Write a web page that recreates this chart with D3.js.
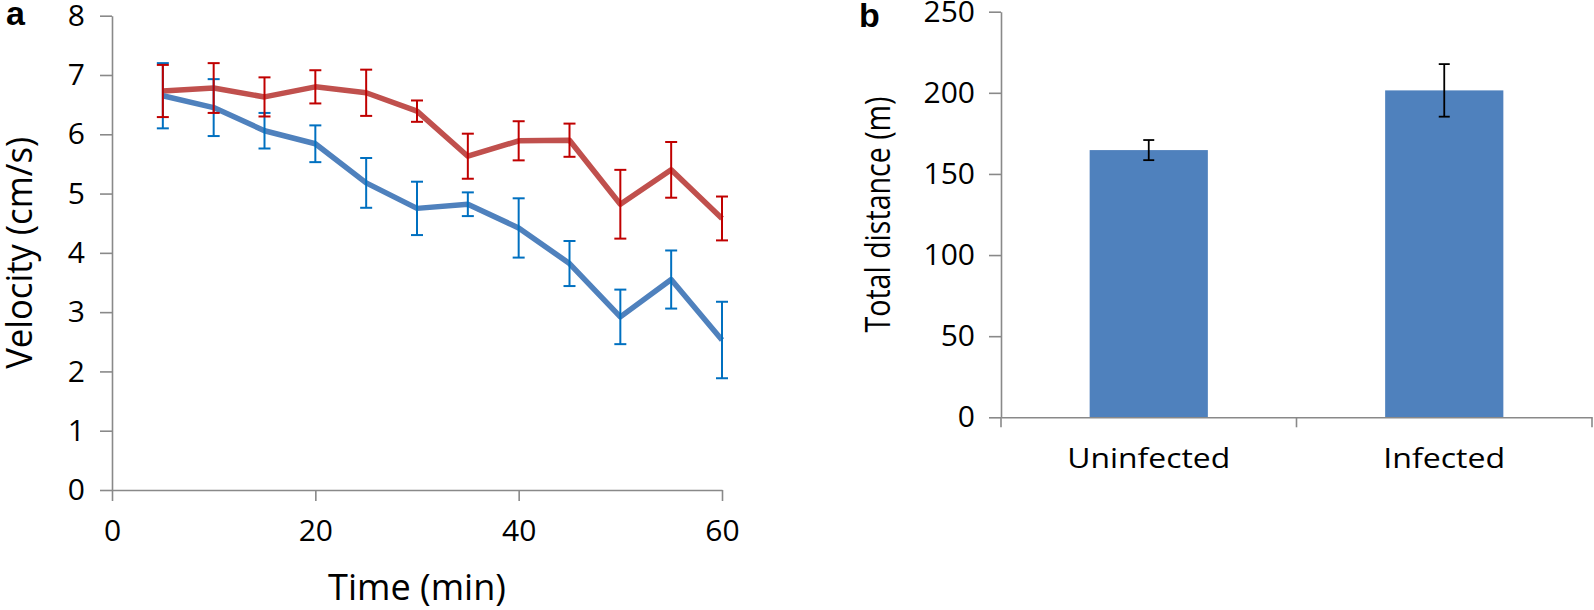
<!DOCTYPE html>
<html>
<head>
<meta charset="utf-8">
<script src="https://cdn.jsdelivr.net/npm/d3@7"></script>
<style>
  html, body { margin: 0; padding: 0; background: #fff; }
  svg { display: block; }
  text { font-family: "Open Sans", "Noto Sans", sans-serif; fill: #000; }
</style>
</head>
<body>
<svg id="chart" width="1594" height="610"></svg>
<script>
// ---------- Panel a data ----------
const times = [5, 10, 15, 20, 25, 30, 35, 40, 45, 50, 55, 60];
const infectedVelocity = [6.73, 6.78, 6.63, 6.80, 6.70, 6.39, 5.63, 5.89, 5.90, 4.82, 5.40, 4.58];
const infectedError    = [0.44, 0.42, 0.33, 0.28, 0.39, 0.18, 0.38, 0.33, 0.28, 0.58, 0.47, 0.37];
const uninfectedVelocity = [6.65, 6.45, 6.06, 5.84, 5.18, 4.75, 4.82, 4.42, 3.82, 2.92, 3.55, 2.53];
const uninfectedError    = [0.55, 0.48, 0.30, 0.31, 0.42, 0.45, 0.20, 0.50, 0.38, 0.46, 0.49, 0.645];
const timeTicks = [0, 20, 40, 60];
const velocityTicks = [0, 1, 2, 3, 4, 5, 6, 7, 8];

// ---------- Panel b data ----------
const groups = ["Uninfected", "Infected"];
const totalDistance = [164.7, 201.5];
const totalDistanceError = [6.2, 16.2];
const distanceTicks = [0, 50, 100, 150, 200, 250];

const svg = d3.select("#chart");
const axisColor = "#898989";

function styleAxis(g) {
  g.selectAll("path.domain").attr("stroke", axisColor).attr("stroke-width", 1.6);
  g.selectAll(".tick line").attr("stroke", axisColor).attr("stroke-width", 1.6);
  g.selectAll(".tick text").attr("fill", "#000");
}

// ================= Panel a =================
const xA = d3.scaleLinear().domain([0, 60]).range([112, 722]);
const yA = d3.scaleLinear().domain([0, 8]).range([490, 15.7]);

const gAy = svg.append("g").attr("transform", `translate(${xA(0)},0)`)
  .call(d3.axisLeft(yA).tickValues(velocityTicks).tickFormat(d3.format("d"))
    .tickSize(12).tickSizeOuter(0).tickPadding(15));
gAy.selectAll(".tick text").style("font-size", "30px").style("font-family", "'Open Sans', sans-serif");
styleAxis(gAy);

const gAx = svg.append("g").attr("transform", `translate(0,${yA(0)})`)
  .call(d3.axisBottom(xA).tickValues(timeTicks).tickFormat(d3.format("d"))
    .tickSize(11).tickSizeOuter(0).tickPadding(19));
gAx.selectAll(".tick text").style("font-size", "30px").style("font-family", "'Open Sans', sans-serif");
styleAxis(gAx);

const line = d3.line().x(d => xA(d.t)).y(d => yA(d.v));

const seriesA = [
  { v: infectedVelocity, e: infectedError, line: "#C0504D", err: "#C00000" },
  { v: uninfectedVelocity, e: uninfectedError, line: "#4F81BD", err: "#0070C0" }
];

seriesA.forEach(s => {
  const pts = times.map((t, i) => ({ t, v: s.v[i], e: s.e[i] }));
  svg.append("path").datum(pts)
    .attr("d", line)
    .attr("fill", "none")
    .attr("stroke", s.line)
    .attr("stroke-width", 5.5)
    .attr("stroke-linejoin", "round")
    .attr("stroke-linecap", "butt");
});

// error bars: uninfected (blue) first, infected (red) on top
seriesA.slice().reverse().forEach(s => {
  const pts = times.map((t, i) => ({ t, v: s.v[i], e: s.e[i] }));
  const g = svg.append("g").attr("stroke", s.err).attr("stroke-width", 2).attr("fill", "none");
  const capW = 6;
  g.selectAll("line.v").data(pts).join("line").attr("class", "v")
    .attr("x1", d => xA(d.t)).attr("x2", d => xA(d.t))
    .attr("y1", d => yA(d.v + d.e)).attr("y2", d => yA(d.v - d.e));
  g.selectAll("line.top").data(pts).join("line").attr("class", "top")
    .attr("x1", d => xA(d.t) - capW).attr("x2", d => xA(d.t) + capW)
    .attr("y1", d => yA(d.v + d.e)).attr("y2", d => yA(d.v + d.e));
  g.selectAll("line.bot").data(pts).join("line").attr("class", "bot")
    .attr("x1", d => xA(d.t) - capW).attr("x2", d => xA(d.t) + capW)
    .attr("y1", d => yA(d.v - d.e)).attr("y2", d => yA(d.v - d.e));
});

// axis titles a
svg.append("text")
  .attr("x", (xA(0) + xA(60)) / 2).attr("y", 600)
  .attr("text-anchor", "middle")
  .attr("textLength", 178).attr("lengthAdjust", "spacingAndGlyphs")
  .style("font-size", "37px")
  .text("Time (min)");

svg.append("text")
  .attr("transform", `translate(32,${(yA(0) + yA(8)) / 2}) rotate(-90)`)
  .attr("text-anchor", "middle")
  .attr("textLength", 232).attr("lengthAdjust", "spacingAndGlyphs")
  .style("font-size", "37px")
  .text("Velocity (cm/s)");

svg.append("text")
  .attr("x", 6).attr("y", 25)
  .style("font-family", "'Liberation Sans', Arial, sans-serif")
  .style("font-weight", "bold")
  .style("font-size", "34px")
  .text("a");

// ================= Panel b =================
const xB = d3.scaleBand().domain(groups).range([1001, 1592]).padding(0);
const yB = d3.scaleLinear().domain([0, 250]).range([417.3, 11.7]);
const barFrac = 0.4;

const gBy = svg.append("g").attr("transform", `translate(${xB.range()[0]},0)`)
  .call(d3.axisLeft(yB).tickValues(distanceTicks).tickFormat(d3.format("d"))
    .tickSize(12).tickSizeOuter(0).tickPadding(14));
gBy.selectAll(".tick text").style("font-size", "30px").style("font-family", "'Open Sans', sans-serif");
styleAxis(gBy);

// bars
svg.append("g").selectAll("rect").data(groups).join("rect")
  .attr("x", (d) => xB(d) + xB.bandwidth() * (1 - barFrac) / 2)
  .attr("width", xB.bandwidth() * barFrac)
  .attr("y", (d, i) => yB(totalDistance[i]))
  .attr("height", (d, i) => yB(0) - yB(totalDistance[i]))
  .attr("fill", "#4F81BD");

// x axis b (labels at band centres, ticks at band boundaries)
const gBx = svg.append("g").attr("transform", `translate(0,${yB(0)})`)
  .call(d3.axisBottom(xB).tickSize(0).tickSizeOuter(0).tickPadding(31));
gBx.selectAll(".tick text").style("font-size", "28px").style("font-family", "'Open Sans', sans-serif")
  .attr("textLength", d => d === "Uninfected" ? 163 : 122)
  .attr("lengthAdjust", "spacingAndGlyphs");
styleAxis(gBx);
const boundaries = groups.map(g => xB(g)).concat([xB.range()[1]]);
gBx.selectAll("line.bound").data(boundaries).join("line").attr("class", "bound")
  .attr("x1", d => d).attr("x2", d => d).attr("y1", 0).attr("y2", 10)
  .attr("stroke", axisColor).attr("stroke-width", 1.6);

// error bars b
const gBe = svg.append("g").attr("stroke", "#000").attr("stroke-width", 1.8);
groups.forEach((g, i) => {
  const cx = xB(g) + xB.bandwidth() / 2;
  const top = yB(totalDistance[i] + totalDistanceError[i]);
  const bot = yB(totalDistance[i] - totalDistanceError[i]);
  gBe.append("line").attr("x1", cx).attr("x2", cx).attr("y1", top).attr("y2", bot);
  gBe.append("line").attr("x1", cx - 5.5).attr("x2", cx + 5.5).attr("y1", top).attr("y2", top);
  gBe.append("line").attr("x1", cx - 5.5).attr("x2", cx + 5.5).attr("y1", bot).attr("y2", bot);
});

svg.append("text")
  .attr("transform", `translate(890,${(yB(0) + yB(250)) / 2}) rotate(-90)`)
  .attr("text-anchor", "middle")
  .attr("textLength", 236).attr("lengthAdjust", "spacingAndGlyphs")
  .style("font-size", "35px")
  .text("Total distance (m)");

svg.append("text")
  .attr("x", 859).attr("y", 26.5)
  .style("font-family", "'Liberation Sans', Arial, sans-serif")
  .style("font-weight", "bold")
  .style("font-size", "34px")
  .text("b");
</script>
</body>
</html>
